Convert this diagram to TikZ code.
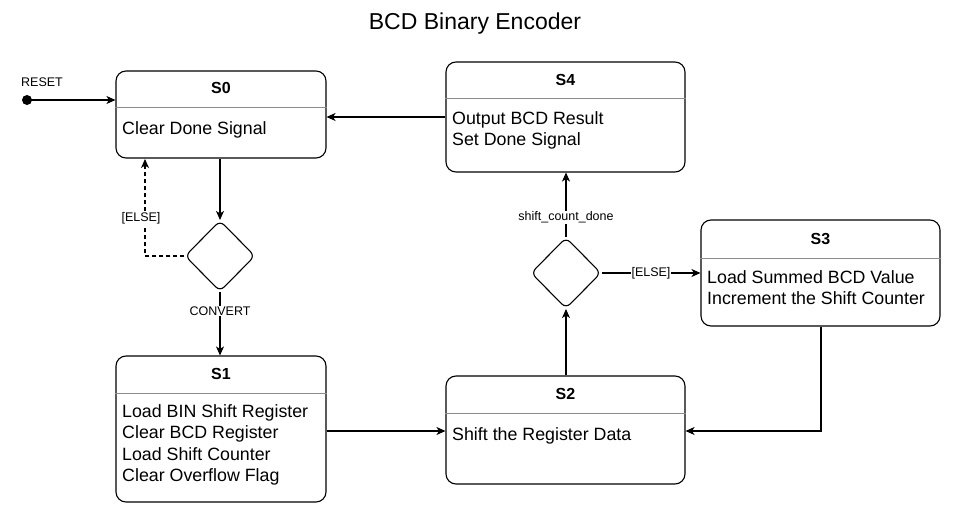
\documentclass[tikz,border=0pt]{standalone}
\usepackage{fontspec}
\setmainfont{Liberation Sans}
\usetikzlibrary{shapes.geometric,arrows.meta}
\begin{document}
\begin{tikzpicture}[x=1pt,y=-1pt,
  state/.style={draw,line width=1.1pt,rounded corners=10pt,inner sep=0pt},
  sep/.style={draw=black!45,line width=0.8pt},
  hdr/.style={font=\fontsize{16}{18}\selectfont\bfseries},
  body/.style={font=\fontsize{17.8}{21.3}\selectfont,align=left,anchor=west,inner sep=0pt},
  choice/.style={draw,diamond,line width=1.1pt,rounded corners=6pt,minimum width=70pt,minimum height=71pt,inner sep=0pt},
  arr/.style={line width=1.1pt,-{Stealth[length=9pt,width=8pt,inset=2.5pt]}},
  lbl/.style={font=\fontsize{12.5}{14}\selectfont,fill=white,inner sep=1pt}]
\useasboundingbox (0,0) rectangle (953,518);
\node (title) at (475,24) {\fontsize{23}{26}\selectfont BCD Binary Encoder};
% states
\node[state,minimum width=210pt,minimum height=87pt] (S0) at (221,114.5) {};
\node[state,minimum width=239pt,minimum height=110pt] (S4) at (565.5,117) {};
\node[state,minimum width=239pt,minimum height=106pt] (S3) at (820.5,273) {};
\node[state,minimum width=210pt,minimum height=146pt] (S1) at (221,429) {};
\node[state,minimum width=239pt,minimum height=108pt] (S2) at (565.5,430) {};
\draw[sep] (S0.west |- 0,107) -- (S0.east |- 0,107);
\draw[sep] (S4.west |- 0,98) -- (S4.east |- 0,98);
\draw[sep] (S3.west |- 0,258) -- (S3.east |- 0,258);
\draw[sep] (S1.west |- 0,393) -- (S1.east |- 0,393);
\draw[sep] (S2.west |- 0,413) -- (S2.east |- 0,413);
\node[hdr] (h0) at (221,88) {S0};
\node[hdr] (h4) at (565.5,80) {S4};
\node[hdr] (h3) at (820.5,239) {S3};
\node[hdr] (h1) at (221,374) {S1};
\node[hdr] (h2) at (565.5,394) {S2};
\node[body] (b0) at (122,129.5) {Clear Done Signal};
\node[body] (b4) at (452,130.5) {Output BCD Result\\Set Done Signal};
\node[body] (b3) at (707,287.5) {Load Summed BCD Value\\Increment the Shift Counter};
\node[body] (b1) at (122,445) {Load BIN Shift Register\\Clear BCD Register\\Load Shift Counter\\Clear Overflow Flag};
\node[body] (b2) at (452,435.5) {Shift the Register Data};
% choices
\node[choice] (d1) at (220,256) {};
\node[choice] (d2) at (566,273) {};
% reset
\fill (27,100) circle (5pt) coordinate (rst);
\node[font=\fontsize{12.5}{14}\selectfont] (rl) at (42,82) {RESET};
\draw[arr] (rst) -- (S0.west |- rst);
% connectors
\draw[arr] (S0.south -| d1) -- (d1.north);
\draw[arr,dashed,dash pattern=on 4pt off 3pt] (d1.west) -- (145,256) -- (145,159);
\node[lbl] (le1) at (141,218) {[ELSE]};
\draw[arr] (d1.south) -- (S1.north -| d1) node[lbl,pos=0.3] (lc) {CONVERT};
\draw[arr] (S1.east |- 0,431) -- (S2.west |- 0,431);
\draw[arr] (S2.north -| d2) -- (d2.south);
\draw[arr] (d2.north) -- (S4.south -| d2) node[lbl,pos=0.3] (ls) {shift\_count\_done};
\draw[arr] (d2.east) -- (S3.west |- d2) node[lbl,midway] (le2) {[ELSE]};
\draw[arr] (S3.south -| 821,0) -- (821,431) -- (S2.east |- 0,431);
\draw[arr] (S4.west |- 0,117) -- (S0.east |- 0,117);
\end{tikzpicture}
\end{document}
